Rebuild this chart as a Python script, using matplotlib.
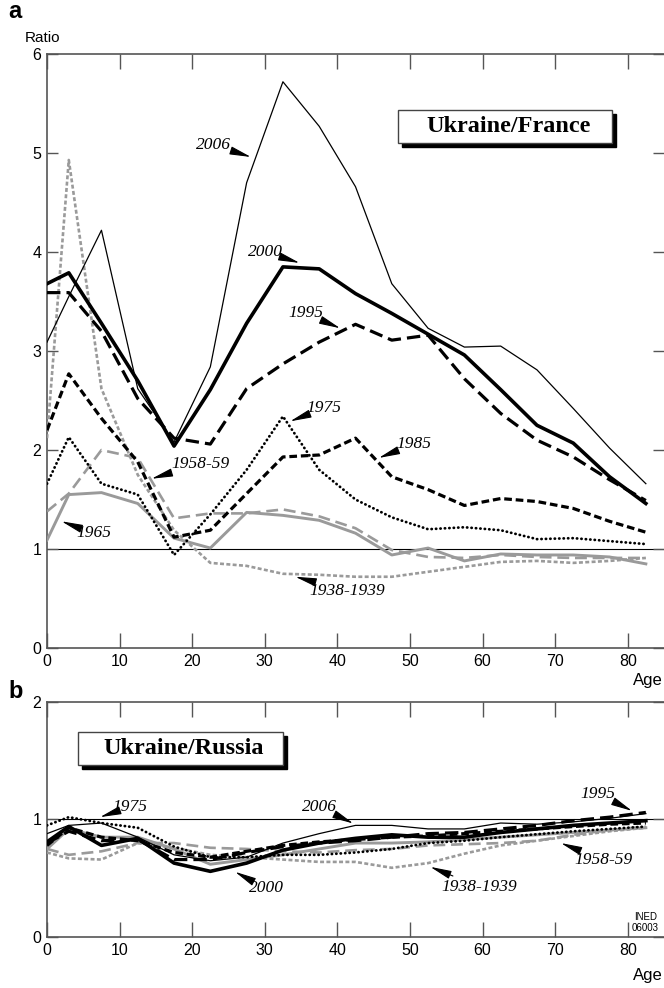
import matplotlib

matplotlib.use("Agg")
import matplotlib.pyplot as plt
from matplotlib.patches import Rectangle
from matplotlib.transforms import offset_copy

ages = [0, 3, 7.5, 12.5, 17.5, 22.5, 27.5, 32.5, 37.5, 42.5, 47.5, 52.5,
        57.5, 62.5, 67.5, 72.5, 77.5, 82.5]

# Ukraine / France mortality ratios
fr_2006 = [3.09, 3.55, 4.22, 2.62, 2.08, 2.84, 4.70, 5.72, 5.27, 4.66, 3.68,
           3.23, 3.04, 3.05, 2.81, 2.42, 2.02, 1.66]
fr_2000 = [3.68, 3.79, 3.28, 2.70, 2.04, 2.61, 3.28, 3.85, 3.83, 3.58, 3.38,
           3.17, 2.96, 2.61, 2.25, 2.07, 1.73, 1.46]
fr_1995 = [3.59, 3.59, 3.20, 2.52, 2.12, 2.06, 2.62, 2.87, 3.09, 3.27, 3.11,
           3.16, 2.72, 2.37, 2.10, 1.93, 1.70, 1.49]
fr_1985 = [2.20, 2.77, 2.32, 1.88, 1.12, 1.19, 1.56, 1.93, 1.95, 2.12, 1.73,
           1.60, 1.44, 1.51, 1.48, 1.41, 1.28, 1.17]
fr_1975 = [1.66, 2.13, 1.66, 1.55, 0.94, 1.35, 1.80, 2.34, 1.80, 1.50, 1.32,
           1.20, 1.22, 1.19, 1.10, 1.11, 1.08, 1.05]
fr_1965 = [1.09, 1.55, 1.57, 1.46, 1.11, 1.01, 1.37, 1.34, 1.29, 1.16, 0.94,
           1.01, 0.88, 0.95, 0.94, 0.94, 0.92, 0.85]
fr_1958 = [1.38, 1.56, 2.00, 1.92, 1.31, 1.36, 1.36, 1.40, 1.33, 1.21, 0.99,
           0.92, 0.91, 0.94, 0.92, 0.91, 0.91, 0.91]
fr_1938 = [2.12, 4.93, 2.62, 1.75, 1.19, 0.86, 0.83, 0.75, 0.74, 0.72, 0.72,
           0.77, 0.82, 0.87, 0.88, 0.86, 0.88, 0.91]

# Ukraine / Russia mortality ratios
ru_2006 = [0.88, 0.95, 0.97, 0.85, 0.70, 0.65, 0.68, 0.80, 0.88, 0.95, 0.95,
           0.92, 0.92, 0.97, 0.96, 0.98, 1.01, 1.05]
ru_2000 = [0.81, 0.94, 0.78, 0.84, 0.63, 0.56, 0.63, 0.74, 0.80, 0.84, 0.87,
           0.85, 0.85, 0.89, 0.92, 0.95, 0.97, 0.99]
ru_1995 = [0.80, 0.90, 0.82, 0.83, 0.66, 0.66, 0.72, 0.77, 0.80, 0.82, 0.85,
           0.88, 0.89, 0.92, 0.95, 0.99, 1.02, 1.06]
ru_1985 = [0.78, 0.93, 0.85, 0.82, 0.72, 0.68, 0.73, 0.78, 0.81, 0.83, 0.85,
           0.86, 0.88, 0.90, 0.92, 0.94, 0.96, 0.97]
ru_1975 = [0.95, 1.02, 0.97, 0.93, 0.77, 0.68, 0.68, 0.70, 0.70, 0.72, 0.75,
           0.80, 0.82, 0.85, 0.875, 0.90, 0.92, 0.94]
ru_1965 = [0.75, 0.92, 0.85, 0.85, 0.75, 0.62, 0.66, 0.70, 0.75, 0.80, 0.80,
           0.81, 0.83, 0.85, 0.87, 0.89, 0.91, 0.93]
ru_1958 = [0.75, 0.70, 0.73, 0.80, 0.80, 0.76, 0.75, 0.73, 0.72, 0.74, 0.75,
           0.78, 0.79, 0.80, 0.82, 0.87, 0.91, 0.94]
ru_1938 = [0.72, 0.67, 0.66, 0.80, 0.76, 0.70, 0.68, 0.66, 0.64, 0.64, 0.59,
           0.63, 0.71, 0.78, 0.82, 0.86, 0.90, 0.93]

GREY = "#9a9a9a"
AXC = "#555555"

# line style per year, in drawing order
styles = {
    "1938": dict(color=GREY, lw=1.9, ls=(0, (1.5, 0.9))),
    "1958": dict(color=GREY, lw=1.9, ls=(0, (4.5, 2.2))),
    "1965": dict(color=GREY, lw=2.1, ls="-"),
    "1975": dict(color="black", lw=2.0, ls=(0, (0.1, 1.5)),
                 dash_capstyle="round"),
    "1985": dict(color="black", lw=2.3, ls=(0, (2.4, 1.2))),
    "1995": dict(color="black", lw=2.3, ls=(0, (4.2, 1.9))),
    "2000": dict(color="black", lw=2.6, ls="-"),
    "2006": dict(color="black", lw=0.9, ls="-"),
}

fr = {"1938": fr_1938, "1958": fr_1958, "1965": fr_1965, "1975": fr_1975,
      "1985": fr_1985, "1995": fr_1995, "2000": fr_2000, "2006": fr_2006}
ru = {"1938": ru_1938, "1958": ru_1958, "1965": ru_1965, "1975": ru_1975,
      "1985": ru_1985, "1995": ru_1995, "2000": ru_2000, "2006": ru_2006}

plt.rcParams["font.family"] = ["Liberation Sans", "DejaVu Sans"]

fig = plt.figure(figsize=(6.64, 9.88), dpi=100)
ax1 = fig.add_axes([0.0708, 0.3441, 0.9292, 0.6012])
ax2 = fig.add_axes([0.0708, 0.0513, 0.9292, 0.2385])


def style_axes(ax, ymax):
    ax.set_xlim(0, 85)
    ax.set_ylim(0, ymax)
    ax.set_xticks(range(0, 90, 10))
    ax.set_yticks(range(0, ymax + 1))
    for side in ("left", "top", "bottom"):
        ax.spines[side].set_color(AXC)
        ax.spines[side].set_linewidth(1.2)
    ax.spines["right"].set_visible(False)
    ax.tick_params(axis="x", direction="in", length=11, width=1.0,
                   color=AXC, top=True, labelsize=11.5, pad=4)
    ax.tick_params(axis="y", direction="in", length=8, width=1.0,
                   color=AXC, right=True, labelsize=11.5, pad=4)
    ax.axhline(1, color="black", lw=0.8, zorder=1)


def title_box(ax, x0, y0, x1, y1, text):
    shadow_tr = offset_copy(ax.transAxes, fig=fig, x=4, y=-4, units="dots")
    ax.add_patch(Rectangle((x0, y0), x1 - x0, y1 - y0, transform=shadow_tr,
                           facecolor="black", edgecolor="black", zorder=5))
    ax.add_patch(Rectangle((x0, y0), x1 - x0, y1 - y0, transform=ax.transAxes,
                           facecolor="white", edgecolor="#444444", lw=1.0,
                           zorder=6))
    ax.text((x0 + x1) / 2 + 0.005, (y0 + y1) / 2, text, transform=ax.transAxes,
            ha="center", va="center", fontsize=17.5, fontweight="bold",
            family="Liberation Serif", zorder=7)


def tag(ax, text, xy, xytext):
    ax.annotate(text, xy=xy, xytext=xytext, ha="center", va="center",
                fontsize=12.5, style="italic", family="Liberation Serif",
                arrowprops=dict(arrowstyle="-|>,head_length=1.3,head_width=0.25",
                                color="black", lw=0.8, shrinkA=0, shrinkB=0,
                                mutation_scale=10),
                zorder=8)


style_axes(ax1, 6)
style_axes(ax2, 2)

for key, kw in styles.items():
    ax1.plot(ages, fr[key], zorder=3, **kw)
    ax2.plot(ages, ru[key], zorder=3, **kw)

title_box(ax1, 0.569, 0.850, 0.916, 0.906, "Ukraine/France")
title_box(ax2, 0.0498, 0.731, 0.382, 0.873, "Ukraine/Russia")

tag(ax1, "2006", (28.1, 4.96), (23.0, 5.08))
tag(ax1, "2000", (34.8, 3.89), (30.1, 4.00))
tag(ax1, "1995", (40.4, 3.23), (35.6, 3.38))
tag(ax1, "1975", (33.5, 2.29), (38.1, 2.42))
tag(ax1, "1985", (45.7, 1.92), (50.6, 2.06))
tag(ax1, "1958-59", (14.4, 1.71), (21.1, 1.86))
tag(ax1, "1965", (2.0, 1.28), (6.4, 1.16))
tag(ax1, "1938-1939", (34.2, 0.72), (41.3, 0.58))

tag(ax2, "1975", (7.3, 1.02), (11.45, 1.107))
tag(ax2, "2006", (42.2, 0.966), (37.5, 1.107))
tag(ax2, "2000", (25.9, 0.556), (30.2, 0.415))
tag(ax2, "1995", (80.6, 1.073), (75.9, 1.22))
tag(ax2, "1958-59", (70.8, 0.80), (76.7, 0.655))
tag(ax2, "1938-1939", (52.8, 0.598), (59.6, 0.429))

fig.text(8 / 664, 1 - 12 / 988, "a", fontsize=17, fontweight="bold",
         ha="left", va="center")
fig.text(8 / 664, 1 - 692 / 988, "b", fontsize=17, fontweight="bold",
         ha="left", va="center")
fig.text(25 / 664, 1 - 38 / 988, "Ratio", fontsize=11, ha="left", va="center")
fig.text(633 / 664, 1 - 681 / 988, "Age", fontsize=12, ha="left", va="center")
fig.text(633 / 664, 1 - 975 / 988, "Age", fontsize=12, ha="left", va="center")
fig.text(634 / 664, 1 - 917 / 988, "INED", fontsize=7, ha="left", va="center")
fig.text(632 / 664, 1 - 928 / 988, "06003", fontsize=7, ha="left", va="center")

fig.savefig("out.png", dpi=100)
plt.close(fig)
